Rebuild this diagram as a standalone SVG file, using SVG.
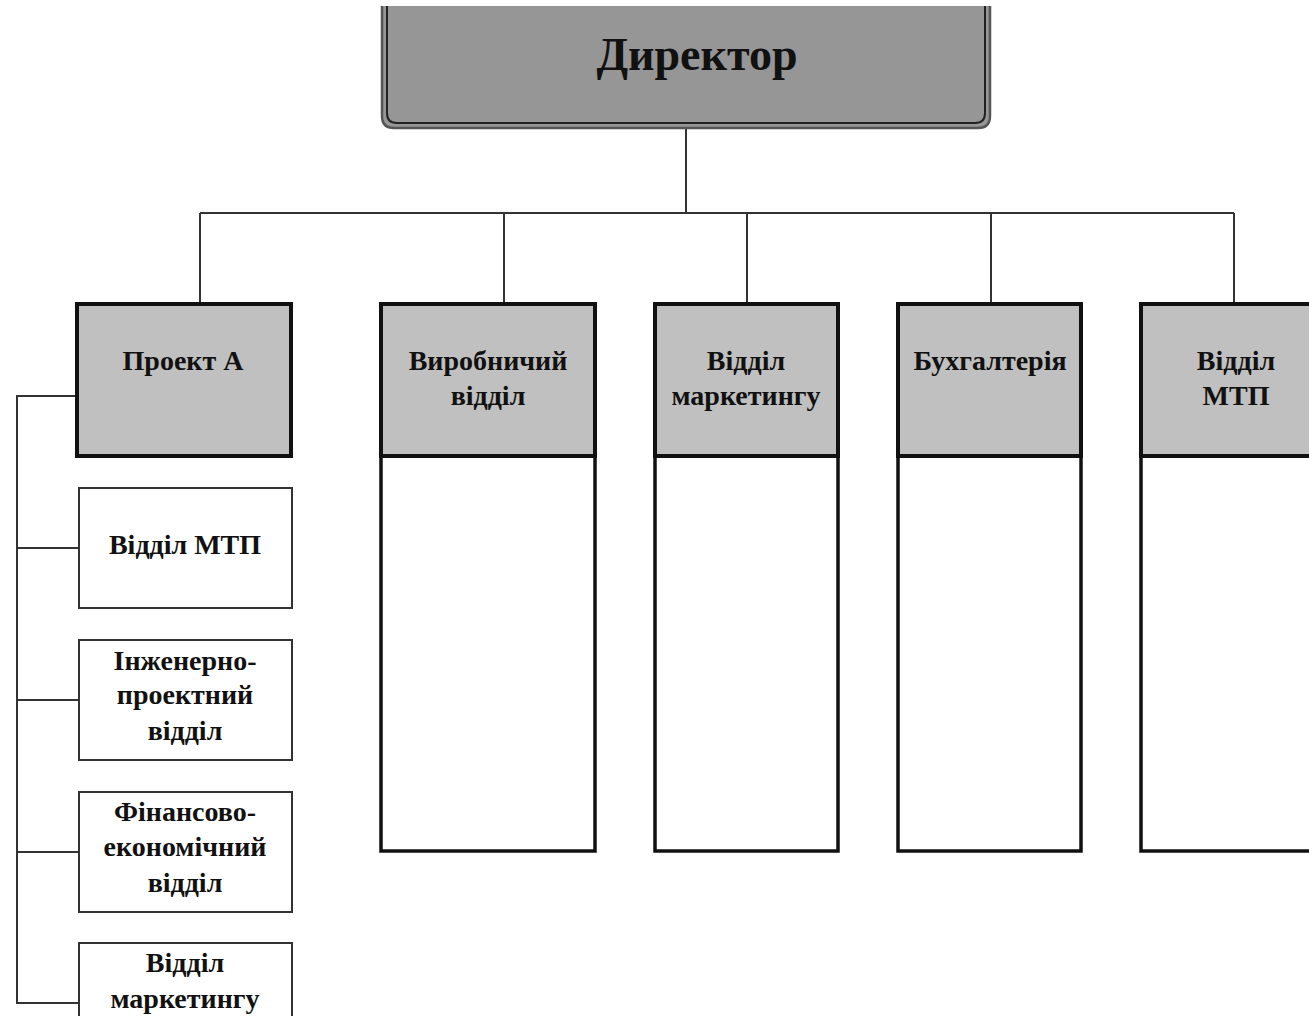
<svg xmlns="http://www.w3.org/2000/svg" width="1309" height="1016" viewBox="0 0 1309 1016">
<style>
text{font-family:"Liberation Serif","Times New Roman",serif;font-weight:bold;fill:#111;text-anchor:middle}
.t{font-size:28px}
.hd{fill:#c0c0c0;stroke:#111;stroke-width:4}
.body{fill:#fff;stroke:#111;stroke-width:3.5}
.sub{fill:#fff;stroke:#333;stroke-width:2}
.ln{fill:none;stroke:#333;stroke-width:2}
</style>
<rect width="1309" height="1016" fill="#fff"/>
<g id="connectors">
<path class="ln" d="M686 128V213M200 213H1234M200 213V303M504 213V303M747 213V303M991 213V303M1234 213V303"/>
<path class="ln" d="M77 396H17V1003H79M17 548H79M17 700H79M17 852H79"/>
</g>
<g id="director">
<path d="M382 6V116Q382 128 394 128H978Q990 128 990 116V6Z" fill="#969696"/>
<path d="M382 6V116Q382 128 394 128H978Q990 128 990 116V6" fill="none" stroke="#555" stroke-width="2.5"/>
<path d="M387 6V113Q387 123 397 123H975Q985 123 985 113V6" fill="none" stroke="#222" stroke-width="2"/>
<text x="697" y="70" style="font-size:46px">Директор</text>
</g>
<g id="project-a">
<rect class="hd" x="77" y="304" width="214" height="152"/>
<text class="t" x="183" y="370">Проект А</text>
</g>
<g id="vyrobnychyi">
<rect class="body" x="381" y="456" width="214" height="395"/>
<rect class="hd" x="381" y="304" width="214" height="152"/>
<text class="t" x="488" y="370">Виробничий</text>
<text class="t" x="488" y="405">відділ</text>
</g>
<g id="marketing">
<rect class="body" x="655" y="456" width="183" height="395"/>
<rect class="hd" x="655" y="304" width="183" height="152"/>
<text class="t" x="746" y="370">Відділ</text>
<text class="t" x="746" y="405">маркетингу</text>
</g>
<g id="buhgalteria">
<rect class="body" x="898" y="456" width="183" height="395"/>
<rect class="hd" x="898" y="304" width="183" height="152"/>
<text class="t" x="990" y="370">Бухгалтерія</text>
</g>
<g id="mtp">
<rect class="body" x="1141" y="456" width="183" height="395"/>
<rect class="hd" x="1141" y="304" width="183" height="152"/>
<text class="t" x="1236" y="370">Відділ</text>
<text class="t" x="1236" y="405">МТП</text>
</g>
<g id="sub-mtp">
<rect class="sub" x="79" y="488" width="213" height="120"/>
<text class="t" x="185" y="554">Відділ МТП</text>
</g>
<g id="sub-engineering">
<rect class="sub" x="79" y="640" width="213" height="120"/>
<text class="t" x="185" y="670">Інженерно-</text>
<text class="t" x="185" y="704">проектний</text>
<text class="t" x="185" y="740">відділ</text>
</g>
<g id="sub-finance">
<rect class="sub" x="79" y="792" width="213" height="120"/>
<text class="t" x="185" y="821">Фінансово-</text>
<text class="t" x="185" y="856">економічний</text>
<text class="t" x="185" y="892">відділ</text>
</g>
<g id="sub-marketing">
<rect class="sub" x="79" y="943" width="213" height="120"/>
<text class="t" x="185" y="972">Відділ</text>
<text class="t" x="185" y="1008">маркетингу</text>
</g>
</svg>
